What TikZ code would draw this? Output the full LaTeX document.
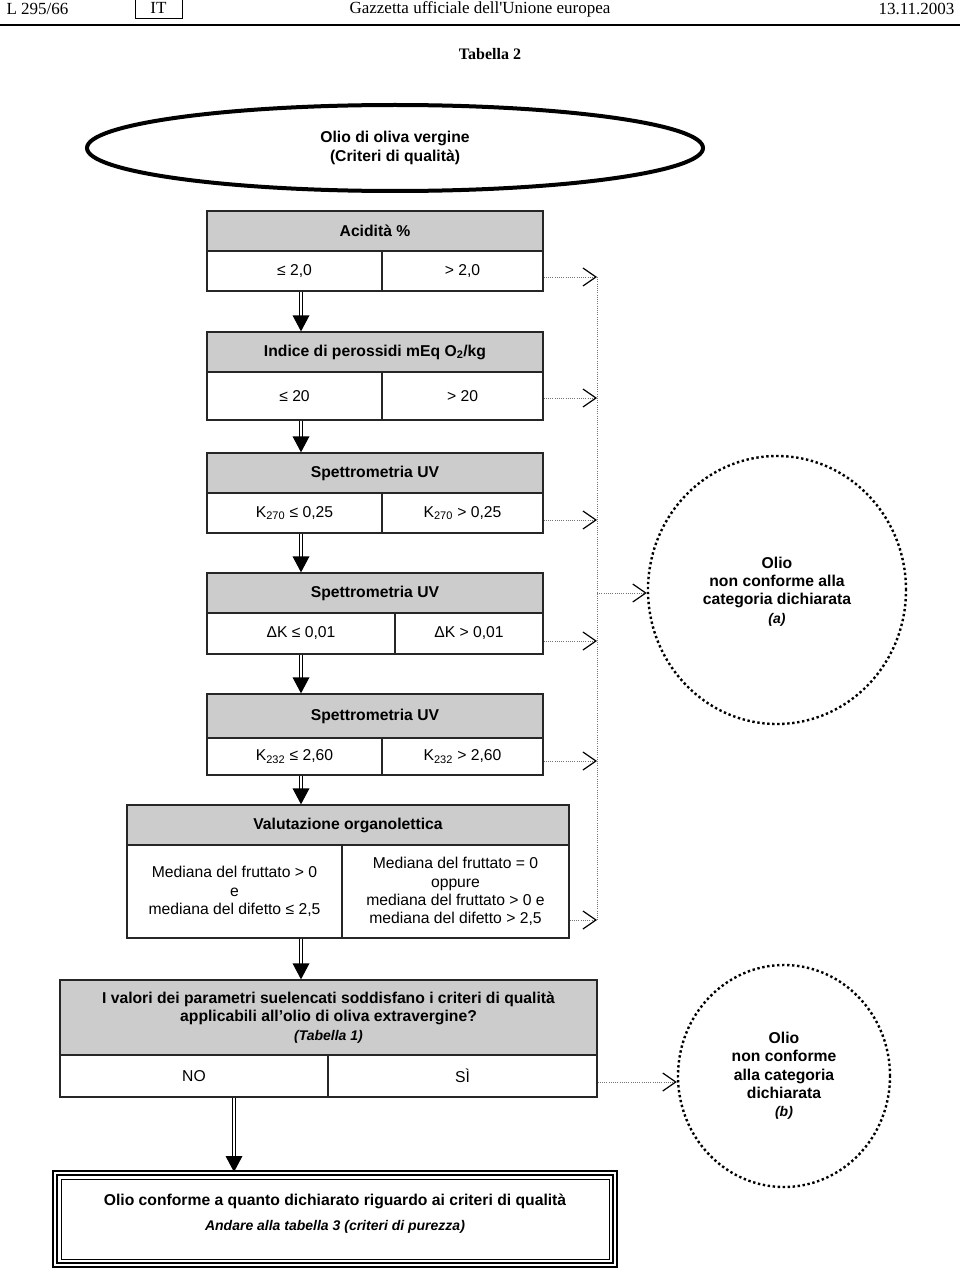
\documentclass[tikz,border=0pt]{standalone}
\usepackage{fontspec}
\setmainfont{Liberation Sans}
\newfontfamily\gazfont{Liberation Serif}
\usepackage{xcolor}
\usetikzlibrary{positioning,arrows.meta,shapes.geometric,decorations.markings,calc}
\definecolor{headgray}{gray}{0.8}
\definecolor{railgray}{gray}{0.45}

\begin{document}
\begin{tikzpicture}[x=1pt, y=-1pt,
    every node/.style={font=\fontsize{15.7}{18.3}\selectfont},
    head/.style={draw=black!85, line width=1.3pt, fill=headgray, inner sep=0pt,
                 align=center, font=\fontsize{15.7}{18.3}\selectfont\bfseries},
    cell/.style={draw=black!85, line width=1.3pt, inner sep=0pt, align=center},
    endbox/.style={ellipse, align=center, inner sep=0pt,
                   font=\fontsize{15.7}{18.3}\selectfont\bfseries},
    dotcirc/.style={draw, line width=2.4pt, dash pattern=on 2.4pt off 2.6pt},
    gaz/.style={font=\gazfont\fontsize{17}{20}\selectfont},
    dblarr/.style={double, double distance=2.6pt, line width=1.1pt, shorten >=15pt,
                   postaction={decorate, decoration={markings,
                     mark=at position 1 with {\fill[black] (0,0) -- (-16pt,8.5pt) -- (-16pt,-8.5pt) -- cycle;}}}},
    dotline/.style={draw=railgray, line width=1pt, dash pattern=on 1pt off 1.2pt},
    dotarr/.style={dotline, -{Straight Barb[length=13pt, width=18pt, line width=1.2pt, color=black]}}]
  \useasboundingbox (0,0) rectangle (960,1268);

  % page header
  \node[gaz, anchor=west] (page) at (3,9) {L 295/66};
  \node[gaz, draw, line width=0.8pt, minimum width=47pt, minimum height=20pt, inner sep=0pt] (lang) at (158.5,8) {IT};
  \node[gaz] (journal) at (480,9) {Gazzetta ufficiale dell'Unione europea};
  \node[gaz, anchor=east] (date) at (958,9) {13.11.2003};
  \draw[line width=1.5pt] (0,25) -- (960,25);
  \node[gaz, font=\gazfont\fontsize{16}{20}\selectfont\bfseries] (title) at (490,54) {Tabella 2};

  \node[endbox, draw, line width=4pt, minimum width=616pt, minimum height=86pt] (start) at (395,148)
    {Olio di oliva vergine\\(Criteri di qualità)};

  \node[head, minimum width=336pt, minimum height=40pt] (acid) at (375,231) {Acidità \%};
  \node[cell, minimum width=175pt, minimum height=40pt] (acidle) at (294.5,271) {≤ 2,0};
  \node[cell, minimum width=161pt, minimum height=40pt] (acidgt) at (462.5,271) {> 2,0};

  \node[head, minimum width=336pt, minimum height=40pt] (perox) at (375,352) {Indice di perossidi mEq O\textsubscript{2}/kg};
  \node[cell, minimum width=175pt, minimum height=48pt] (peroxle) at (294.5,396) {≤ 20};
  \node[cell, minimum width=161pt, minimum height=48pt] (peroxgt) at (462.5,396) {> 20};

  \node[head, minimum width=336pt, minimum height=40pt] (uvk) at (375,473) {Spettrometria UV};
  \node[cell, minimum width=175pt, minimum height=40pt] (kle) at (294.5,513) {K\textsubscript{270} ≤ 0,25};
  \node[cell, minimum width=161pt, minimum height=40pt] (kgt) at (462.5,513) {K\textsubscript{270} > 0,25};

  \node[head, minimum width=336pt, minimum height=40pt] (uvdk) at (375,593) {Spettrometria UV};
  \node[cell, minimum width=188pt, minimum height=41pt] (dkle) at (301,633.5) {ΔK ≤ 0,01};
  \node[cell, minimum width=148pt, minimum height=41pt] (dkgt) at (469,633.5) {ΔK > 0,01};

  \node[head, minimum width=336pt, minimum height=44pt] (uvkk) at (375,716) {Spettrometria UV};
  \node[cell, minimum width=175pt, minimum height=37pt] (kkle) at (294.5,756.5) {K\textsubscript{232} ≤ 2,60};
  \node[cell, minimum width=161pt, minimum height=37pt] (kkgt) at (462.5,756.5) {K\textsubscript{232} > 2,60};

  \node[head, minimum width=442pt, minimum height=40pt] (organo) at (348,825) {Valutazione organolettica};
  \node[cell, minimum width=215pt, minimum height=93pt] (votle) at (234.5,891.5)
    {Mediana del fruttato > 0\\e\\mediana del difetto ≤ 2,5};
  \node[cell, minimum width=227pt, minimum height=93pt] (votgt) at (455.5,891.5)
    {Mediana del fruttato = 0\\oppure\\mediana del fruttato > 0 e\\mediana del difetto > 2,5};

  \node[head, minimum width=537pt, minimum height=75pt] (quest) at (328.5,1017.5)
    {I valori dei parametri suelencati soddisfano i criteri di qualità\\applicabili all’olio di oliva extravergine?\\{\itshape\fontsize{14}{18}\selectfont (Tabella 1)}};
  \node[cell, minimum width=268pt, minimum height=42pt] (qno) at (194,1076) {NO};
  \node[cell, minimum width=269pt, minimum height=42pt] (qsi) at (462.5,1076) {SÌ};

  \node[cell, draw=black, line width=2pt, double, double distance=2pt, minimum width=560pt, minimum height=92pt,
        text depth=14pt, font=\fontsize{15.7}{18.3}\selectfont\bfseries] (concl) at (335,1219)
    {Olio conforme a quanto dichiarato riguardo ai criteri di qualità\\[7pt]{\itshape\fontsize{14}{18}\selectfont Andare alla tabella 3 (criteri di purezza)}};
  \draw[line width=0.8pt] ([shift={(7pt,-7pt)}]concl.north west) rectangle ([shift={(-7pt,7pt)}]concl.south east);

  \node[endbox, dotcirc, minimum width=258pt, minimum height=268pt, text depth=0pt] (nca) at (777,590)
    {Olio\\non conforme alla\\categoria dichiarata\\{\itshape\fontsize{14}{18}\selectfont (a)}};
  \node[endbox, dotcirc, minimum width=212pt, minimum height=222pt] (ncb) at (784,1076)
    {Olio\\non conforme\\alla categoria\\dichiarata\\{\itshape\fontsize{14}{18}\selectfont (b)}};

  \coordinate (spine) at (301,0);
  \coordinate (spineb) at (234,0);
  \coordinate (rail) at (597,0);
  \draw[dblarr] (acidle.south -| spine) -- (perox.north -| spine);
  \draw[dblarr] (peroxle.south -| spine) -- (uvk.north -| spine);
  \draw[dblarr] (kle.south -| spine) -- (uvdk.north -| spine);
  \draw[dblarr] (dkle.south -| spine) -- (uvkk.north -| spine);
  \draw[dblarr] (kkle.south -| spine) -- (organo.north -| spine);
  \draw[dblarr] (votle.south -| spine) -- (quest.north -| spine);
  \draw[dblarr] (qno.south -| spineb) -- (concl.north -| spineb);

  \draw[dotarr] ([yshift=-6pt]acidgt.east) coordinate (o1) -- (o1 -| rail);
  \draw[dotarr] ([yshift=-2pt]peroxgt.east) coordinate (o2) -- (o2 -| rail);
  \draw[dotarr] ([yshift=-7pt]kgt.east) coordinate (o3) -- (o3 -| rail);
  \draw[dotarr] ([yshift=-7.5pt]dkgt.east) coordinate (o4) -- (o4 -| rail);
  \draw[dotarr] ([yshift=-4.5pt]kkgt.east) coordinate (o5) -- (o5 -| rail);
  \draw[dotarr] ([yshift=-28.5pt]votgt.east) coordinate (o6) -- (o6 -| rail);
  \draw[dotline] (o1 -| rail) -- (o6 -| rail);
  \draw[dotarr] ([yshift=-3pt]nca.west -| rail) coordinate (oa) -- (oa -| nca.west);
  \draw[dotarr] ([yshift=-6pt]qsi.east) coordinate (ob) -- (ob -| ncb.west);
\end{tikzpicture}
\end{document}
